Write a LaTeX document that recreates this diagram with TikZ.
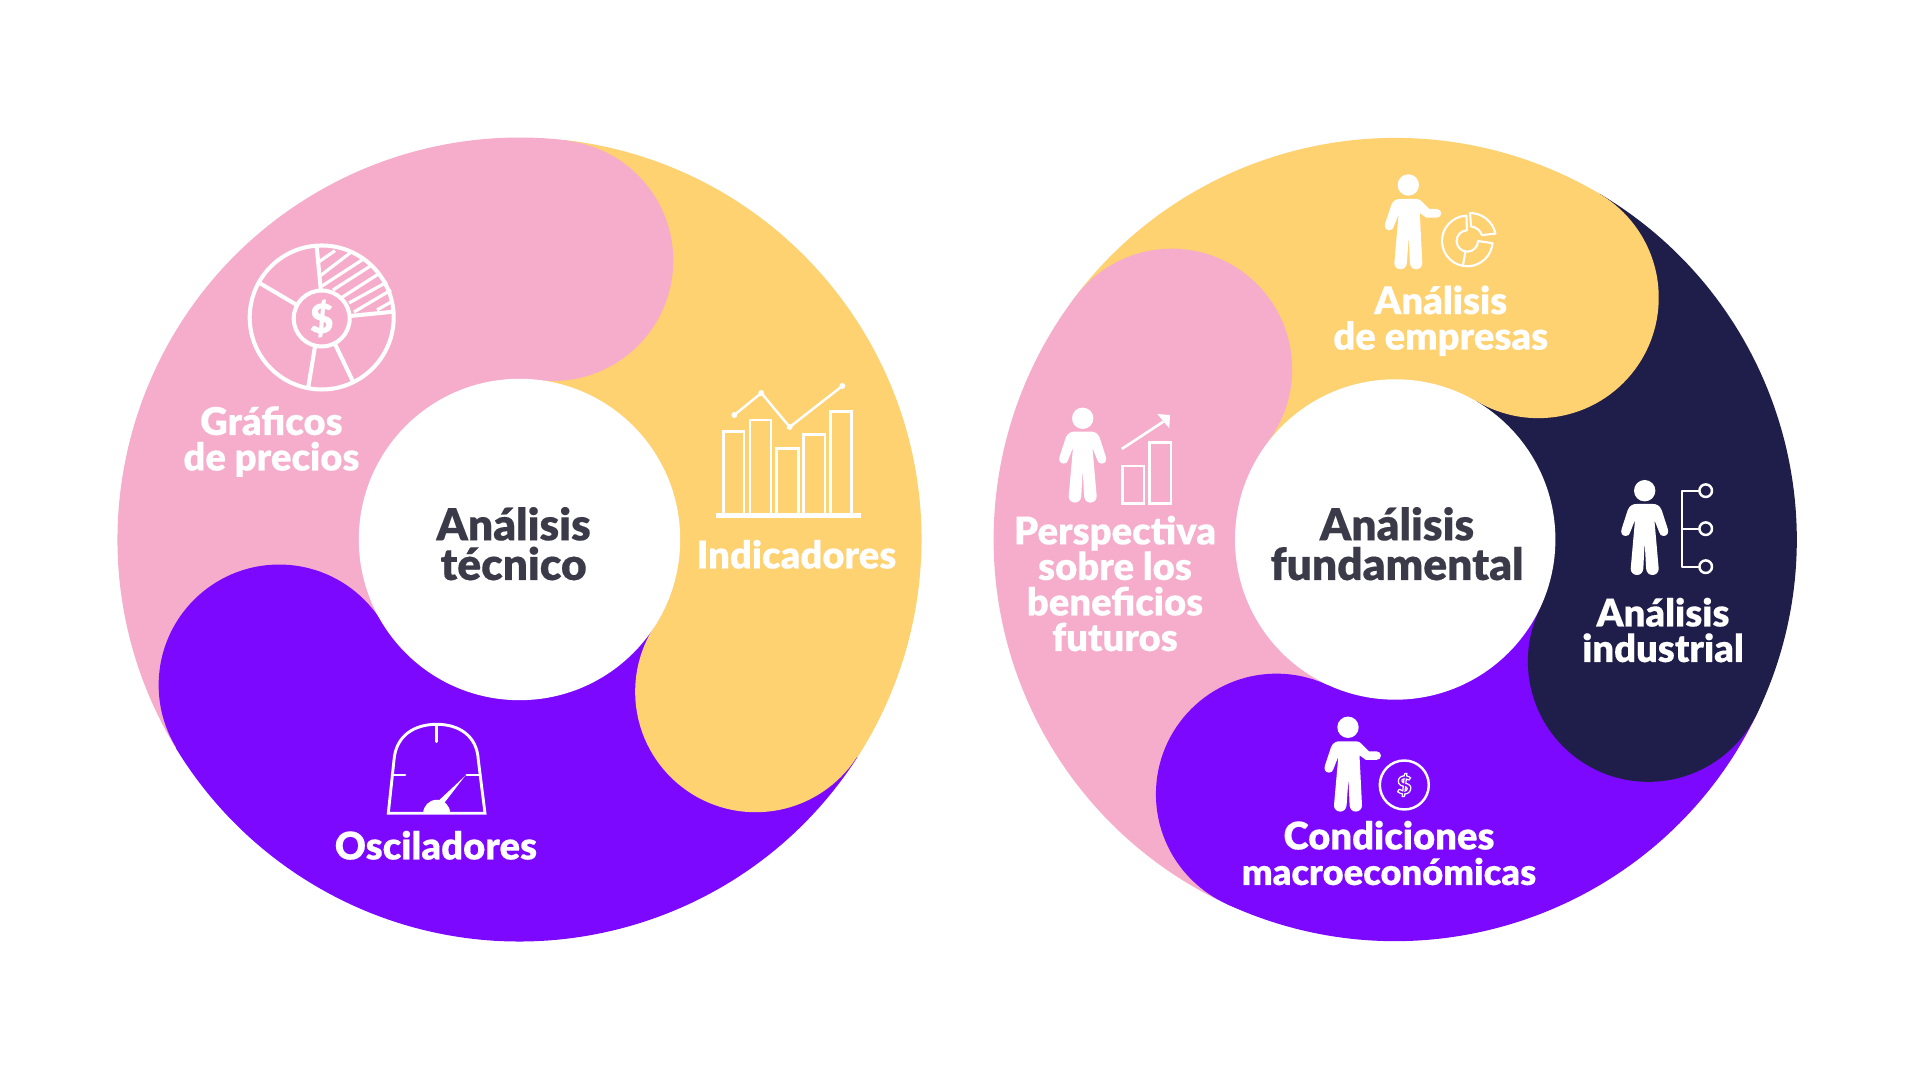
\documentclass[tikz,border=0pt]{standalone}
\usepackage{fontspec}
\usetikzlibrary{calc}
\setmainfont{Lato}[BoldFont={Lato Black},BoldFeatures={FakeBold=0.25}]
\newfontfamily\coinfont{Lato Black}
\definecolor{cpink}{HTML}{F5ADCB}
\definecolor{cyellow}{HTML}{FED171}
\definecolor{cpurple}{HTML}{7C08FF}
\definecolor{cnavy}{HTML}{1F1E4B}
\definecolor{cdark}{HTML}{3A3A48}
\tikzset{
  lbl/.style={font=\fontsize{10.85}{10.1}\selectfont\bfseries, text=white, align=center, anchor=base, inner sep=0pt},
  ttl/.style={font=\fontsize{12.6}{11.27}\selectfont\bfseries, text=cdark, align=center, anchor=base, inner sep=0pt},
  ico/.style={draw=white, line width=0.7pt, line cap=round, line join=round},
  thin ico/.style={draw=white, line width=0.55pt, line cap=round, line join=round},
}
% sector of the ring: colour, centre, start angle, end angle, outer radius
\newcommand\ringsector[5]{\fill[#1] (#2) -- ++(#3:#5) arc[start angle=#3, end angle=#4, radius=#5] -- cycle;}
\newcommand\ringlobe[3]{\fill[#1] (#2) ++(#3:281) circle[radius=120.5];}
\newcommand\personstand[1]{\fill[white,shift={(#1)}]
  (0,0) circle[radius=10.7]
  (-8,13.3) .. controls (-11.5,13.3) and (-15,14.5) .. (-17,19.5)
  -- (-23,38) .. controls (-24.5,42) and (-22.5,45.3) .. (-19,45.3)
  .. controls (-16.5,45.3) and (-15,44) .. (-14.5,41.5)
  -- (-9.7,29.3) -- (-14,78) .. controls (-14,82) and (-11,84.3) .. (-7.7,84.3)
  .. controls (-4.5,84.3) and (-1.8,82) .. (-1.4,78)
  -- (0,51) -- (1.4,78) .. controls (1.8,82) and (4.5,84.3) .. (7.7,84.3)
  .. controls (11,84.3) and (14,82) .. (14,78)
  -- (9.7,29.3) -- (14.5,41.5) .. controls (15,44) and (16.5,45.3) .. (19,45.3)
  .. controls (22.5,45.3) and (24.5,42) .. (23,38)
  -- (17,19.5) .. controls (15,14.5) and (11.5,13.3) .. (8,13.3) -- cycle;}
\newcommand\personpoint[1]{\fill[white,shift={(#1)}]
  (0,0) circle[radius=10.7]
  (-8,14) .. controls (-11.5,14) and (-15,15) .. (-17,20)
  -- (-23,38) .. controls (-24.5,42) and (-22.5,45.3) .. (-19,45.3)
  .. controls (-16.5,45.3) and (-15,44) .. (-14.5,41.5)
  -- (-9.7,29.3) -- (-14,78) .. controls (-14,82) and (-11,84.3) .. (-7.7,84.3)
  .. controls (-4.5,84.3) and (-1.8,82) .. (-1.4,78)
  -- (0.5,51) -- (1.6,78) .. controls (2,82) and (4.5,84.3) .. (7.8,84.3)
  .. controls (11,84.3) and (14,82) .. (14,78)
  -- (11.5,28) -- (18,32.7) -- (28.3,32.7)
  .. controls (31,32.7) and (33,31) .. (33,28.3)
  .. controls (33,26) and (31,24) .. (28.3,24)
  -- (21,24) -- (14,17) .. controls (12,15) and (11,14) .. (8,14) -- cycle;}
\begin{document}
\begin{tikzpicture}[x=0.01cm,y=0.01cm,yscale=-1]
\useasboundingbox (0,0) rectangle (1920,1080);
\fill[white] (0,0) rectangle (1920,1080);
\coordinate (LC) at (519.5,539.5);
\coordinate (RC) at (1395.2,539.5);
% ---------- left ring
\ringsector{cyellow}{LC}{276.8}{392.8}{402}
\ringsector{cpink}{LC}{148.8}{276.8}{402}
\ringlobe{cpink}{LC}{276.8}
\ringsector{cpurple}{LC}{32.8}{148.8}{402}
\ringlobe{cpurple}{LC}{148.8}
\ringlobe{cyellow}{LC}{32.8}
\fill[white] (LC) circle[radius=160.7];
% ---------- right ring
\ringsector{cyellow}{RC}{217.3}{300.6}{401.6}
\ringsector{cpink}{RC}{115}{217.3}{401.6}
\ringlobe{cpink}{RC}{217.3}
\ringsector{cpurple}{RC}{25.7}{115}{401.6}
\ringlobe{cpurple}{RC}{115}
\ringsector{cnavy}{RC}{-59.4}{25.7}{401.6}
\ringlobe{cnavy}{RC}{25.7}
\ringlobe{cyellow}{RC}{-59.4}
\fill[white] (RC) circle[radius=160.2];
% ---------- texts
\node[ttl] (tecnico) at (513.6,580) {Análisis\\técnico};
\node[ttl] (fundamental) at (1397,580) {Análisis\\fundamental};
\node[lbl] (graficos) at (271.4,470.5) {Gráficos\\de precios};
\node[lbl] (indicadores) at (796.4,568.5) {Indicadores};
\node[lbl] (osciladores) at (435.9,859.5) {Osciladores};
\node[lbl] (empresas) at (1440.7,349.7) {Análisis\\de empresas};
\node[lbl] (perspectiva) at (1115,651) {Perspectiva\\sobre los\\beneficios\\futuros};
\node[lbl] (industrial) at (1663,662) {Análisis\\industrial};
\node[lbl] (condiciones) at (1389,885) {Condiciones\\{\fontsize{10.3}{10.1}\selectfont macroeconómicas}};
% ---------- pie icon
\begin{scope}[ico, line width=1.15pt]
\draw (321.7,317.5) circle[radius=72];
\draw (321.7,318.5) circle[radius=28];
\draw (316.7,246.7) -- (320.7,289);
\draw (260,283.3) -- (296,304.5);
\draw (315,346.5) -- (308.3,387);
\draw (335,344) -- (352.7,381);
\draw (350,316) -- (393.3,311.7);
\end{scope}
\begin{scope}[ico, line width=0.9pt, line cap=butt]
\draw (319,261.7) -- (335,250.7);
\draw (320,276) -- (350,253);
\draw (322,286) -- (362,260);
\draw (333,290) -- (372,265);
\draw (341,298) -- (380,273);
\draw (349,303) -- (387,282);
\draw (354,312) -- (391,290);
\draw (377,310) -- (391,302);
\end{scope}
\node[font=\fontsize{11.5}{11.5}\selectfont\bfseries, text=white, inner sep=0pt] (dollar) at (321.7,318.5) {\$};
% ---------- bars icon
\begin{scope}[ico, line width=0.78pt, line join=miter, line cap=butt]
\draw (723.3,515.3) |- (744,431.3) -- (744,515.3);
\draw (750,515.3) |- (771,420) -- (771,515.3);
\draw (776.7,515.3) |- (798.3,448.3) -- (798.3,515.3);
\draw (803.7,515.3) |- (825,434.3) -- (825,515.3);
\draw (830.7,515.3) |- (851.7,411.3) -- (851.7,515.3);
\end{scope}
\draw[ico, line width=1.45pt, line cap=butt] (716,515.3) -- (861,515.3);
\draw[ico, line width=0.7pt] (734.3,415) -- (761.3,393) -- (789.7,427) -- (842.3,386);
\fill[white] (734.3,415) circle[radius=3] (761.3,393) circle[radius=3] (789.7,427) circle[radius=3] (842.3,386) circle[radius=3];
% ---------- gauge icon
\draw[ico, line width=0.82pt, line cap=butt, line join=miter]
  (388.3,813.3) -- (394,760) .. controls (396,735) and (415,724.3) .. (436.7,724.3)
  .. controls (458,724.3) and (477,735) .. (478.3,760) -- (485,813.3) -- cycle;
\draw[ico, line width=0.82pt] (436.7,724.5) -- (436.7,741.7) (392,775) -- (405,775) (466.7,775) -- (480,775);
\fill[white] (465,776) -- (438.3,801) -- (443.5,804) -- cycle;
\fill[white] (423.2,813.3) arc[start angle=180, end angle=360, radius=13.5] -- cycle;
% ---------- persons
\personpoint{1408.3,185}
\personstand{1082.7,418.3}
\personstand{1644.7,490.7}
\personpoint{1348,727.3}
% ---------- donut icon
\begin{scope}[ico, line width=0.6pt]
\draw ($(1467.3,241)+(-92:25.3)$) arc[start angle=-92, end angle=-355, radius=25.3]
  -- ($(1467.3,241)+(0:10.7)$) arc[start angle=0, end angle=268, radius=10.7] -- cycle;
\draw ($(1467.3,241)+(100:11)$) -- ($(1467.3,241)+(100:25)$);
\draw ($(1470,239)+(-90:26)$) arc[start angle=-90, end angle=-12, radius=26]
  -- ($(1470,239)+(-18:12.5)$) arc[start angle=-18, end angle=-85, radius=12.5] -- cycle;
\end{scope}
% ---------- growth icon
\begin{scope}[ico, line width=0.75pt, line cap=butt, line join=miter]
\draw (1122.3,466) rectangle (1144,503.3);
\draw (1149.3,442.7) rectangle (1171,503.3);
\draw (1121.7,449) -- (1163.3,421.7);
\end{scope}
\fill[white] (1170,415) -- (1157.3,414) -- (1169.3,428.3) -- cycle;
% ---------- tree icon
\draw[thin ico, line cap=butt] (1699.5,490.7) -| (1682.3,566.7) -- (1699.5,566.7) (1682.3,528.7) -- (1699.5,528.7);
\draw[ico] (1705.7,490.7) circle[radius=6.3] (1705.7,528.7) circle[radius=6.3] (1705.7,566.7) circle[radius=6.3];
% ---------- coin icon
\draw[ico] (1404.3,785) circle[radius=24.5];
\node[font=\fontsize{7}{7}\selectfont\coinfont, text=white, inner sep=0pt] (coin) at (1404.3,785) {\special{pdf:code 1 Tr 0.35 w}\$\special{pdf:code 0 Tr 1 w}};
\end{tikzpicture}
\end{document}
